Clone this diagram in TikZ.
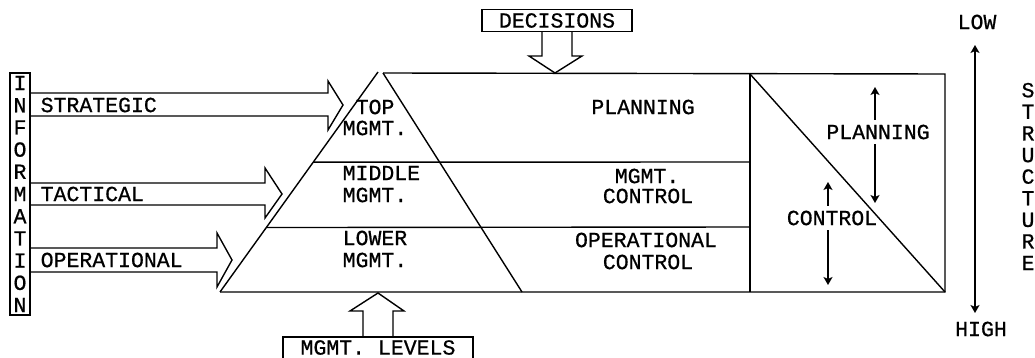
\documentclass[tikz,border=0pt]{standalone}
\usepackage{fontspec}
\setmainfont{Liberation Mono}[FakeBold=0.7]
\usetikzlibrary{arrows.meta,calc}
\begin{document}
\begin{tikzpicture}[x=1pt,y=-1pt,line width=1.4pt,
  txt/.style={font=\fontsize{21.5}{22}\selectfont,inner sep=0pt},
  boxed/.style={txt,draw,line width=1.2pt},
  frame/.style={line width=1.2pt},
  blockarrow/.style={line width=1.4pt,line join=miter},
  tip/.style={{Stealth[length=8pt,width=9pt,inset=2pt]}-{Stealth[length=8pt,width=9pt,inset=2pt]}}]
\clip (0,0) rectangle (1035,358);
\useasboundingbox (0,0) rectangle (1035,358);

% INFORMATION column
\node[boxed,minimum width=20pt,minimum height=242pt,align=center,
      font=\fontsize{21.5}{22.2}\selectfont] (info) at (20,194)
  {I\\N\\F\\O\\R\\M\\A\\T\\I\\O\\N};

% block arrows
\draw[blockarrow] (info.east |- 0,93) -- (328,93) -- (328,81) -- (343,105) -- (328,130) -- (328,116) -- (info.east |- 0,116);
\draw[blockarrow] (info.east |- 0,183) -- (265,183) -- (265,168) -- (282,194) -- (265,218) -- (265,205) -- (info.east |- 0,205);
\draw[blockarrow] (info.east |- 0,248) -- (217,248) -- (217,233) -- (232,260) -- (217,287) -- (217,272) -- (info.east |- 0,272);
\node[txt,anchor=west] (strat) at (40,105) {STRATEGIC};
\node[txt,anchor=west] (tact) at (40,194) {TACTICAL};
\node[txt,anchor=west] (oper) at (40,260) {OPERATIONAL};

% pyramid and table
\coordinate (apexL) at (378,72);
\coordinate (apexR) at (383,73);
\coordinate (baseL) at (220,292);
\coordinate (baseR) at (522,292);
\coordinate (boxTL) at (750,74);
\coordinate (boxTR) at (945,74);
\coordinate (boxBL) at (750,292);
\coordinate (boxBR) at (945,292);
\draw (baseL) -- (apexL);
\draw (apexR) -- (baseR);
\draw (apexR) -- (boxTR) -- (boxBR) -- (baseL);
\draw (boxTL) -- (boxBL);
\draw ($(apexL)!0.41!(baseL)$) -- (750,162);
\draw ($(apexL)!0.707!(baseL)$) -- (750,227);

% pyramid texts
\node[txt,anchor=west] (top) at (355,107) {TOP};
\node[txt,anchor=west] (topm) at (342,128) {MGMT.};
\node[txt,anchor=west] (mid) at (342,173) {MIDDLE};
\node[txt,anchor=west] (midm) at (342,195) {MGMT.};
\node[txt,anchor=west] (low) at (342,238) {LOWER};
\node[txt,anchor=west] (lowm) at (342,260) {MGMT.};

% middle column texts
\node[txt] (plan) at (643,107) {PLANNING};
\node[txt] (mc1) at (647,176) {MGMT.};
\node[txt] (mc2) at (648,196) {CONTROL};
\node[txt] (oc1) at (646,240) {OPERATIONAL};
\node[txt] (oc2) at (648,262) {CONTROL};

% right box arrows
\coordinate (pa) at (875,87);
\coordinate (pb) at (875,203);
\draw[tip] (pa) -- (pb);
\node[txt,fill=white,inner ysep=5pt,inner xsep=1pt] (rplan) at (878,132) {PLANNING};
\coordinate (ca) at (828,182);
\coordinate (cb) at (828,285);
\draw[tip] (ca) -- (cb);
\node[txt,fill=white,inner ysep=5pt,inner xsep=1pt] (rcont) at (832,218) {CONTROL};
\draw (boxTL) -- (boxBR);

% decisions
\node[boxed,minimum width=150pt,minimum height=22pt] (dec) at (557,20.5) {DECISIONS};
\draw[blockarrow] (dec.south -| 542,0) -- (542,56) -- (529,56) -- (555,73) -- (582,56) -- (572,56) -- (dec.south -| 572,0);

% mgmt levels
\node[txt] (lev) at (378,347.5) {MGMT. LEVELS};
\draw[frame] (283,362) -- (283,337) -- (473,337) -- (473,362);
\draw[blockarrow] (363,337) -- (363,311) -- (350,311) -- (378,293) -- (404,311) -- (393,311) -- (393,337);

% structure axis
\node[txt] (lo) at (977,22) {LOW};
\node[txt] (hi) at (981,329) {HIGH};
\coordinate (axa) at (975,45);
\coordinate (axb) at (975,313);
\draw[tip] (axa) -- (axb);
\node[txt,align=center,font=\fontsize{21.5}{21.6}\selectfont] (struct) at (1028,176.5)
  {S\\T\\R\\U\\C\\T\\U\\R\\E};
\end{tikzpicture}
\end{document}
